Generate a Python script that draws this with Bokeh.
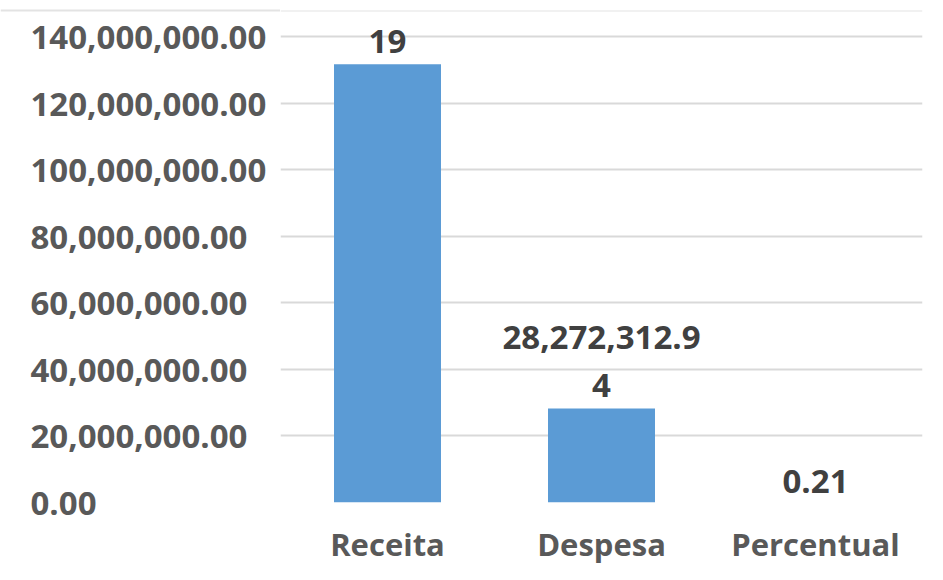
from bokeh.plotting import figure
from bokeh.layouts import row, column
from bokeh.models import ColumnDataSource, FixedTicker, Range1d, Span, CDSView, BooleanFilter
from bokeh.core.properties import value
from bokeh.embed import file_html
from bokeh.resources import INLINE

categories = ["Receita", "Despesa", "Percentual"]
values = [131650000.19, 28272312.94, 0.21]
y_ticks = [0, 20000000, 40000000, 60000000, 80000000, 100000000, 120000000, 140000000]

FONT = "Open Sans"
BAR = "#5B9BD5"
GRID = "#D9D9D9"
BORDER = "#E3E3E3"
AXIS_TXT = "#595959"
LBL_TXT = "#404040"

H = 572
TOP, BOTTOM = 10, 70
Y_END = 147810000
LEFT_W = 280
MAIN_W = 655


def wrap(s, n=12):
    return "\n".join(s[i:i + n] for i in range(0, len(s), n))


labels = [wrap(f"{v:,.2f}") for v in values]
multi = ["\n" in s for s in labels]
src = ColumnDataSource(dict(cat=categories, val=values, lbl=labels))

# ---- main plot ----
p = figure(width=MAIN_W, height=H, x_range=categories, y_range=Range1d(0, Y_END),
           output_backend="svg", toolbar_location=None,
           min_border_left=0, min_border_right=13,
           min_border_top=TOP, min_border_bottom=BOTTOM)
p.outline_line_color = None
p.background_fill_color = "white"
p.border_fill_color = "white"

p.vbar(x="cat", top="val", width=0.5, source=src, fill_color=BAR, line_color=None)

txt = dict(text_font=value(FONT), text_font_style="bold",
           text_font_size="33px", text_color=LBL_TXT,
           text_align="center", text_baseline="bottom",
           text_line_height=1.07)
p.text(x="cat", y="val", text="lbl", source=src,
       view=CDSView(filter=BooleanFilter(multi)), y_offset=-1, **txt)
p.text(x="cat", y="val", text="lbl", source=src,
       view=CDSView(filter=BooleanFilter([not m for m in multi])), y_offset=-10, **txt)

p.yaxis.visible = False
p.ygrid.ticker = FixedTicker(ticks=y_ticks)
p.ygrid.grid_line_color = GRID
p.ygrid.grid_line_width = 2
p.xgrid.grid_line_color = None
p.add_layout(Span(location=Y_END, dimension="width", line_color=BORDER, line_width=2))

p.xaxis.axis_line_color = None
p.xaxis.major_tick_line_color = None
p.xaxis.minor_tick_line_color = None
p.xaxis.major_label_standoff = 14
p.xaxis.major_label_text_font = FONT
p.xaxis.major_label_text_font_style = "bold"
p.xaxis.major_label_text_font_size = "31px"
p.xaxis.major_label_text_color = AXIS_TXT
p.x_range.range_padding = 0

# ---- left panel with value-axis labels (same scale, full-height frame) ----
k = Y_END / (H - TOP - BOTTOM)
lp = figure(width=LEFT_W, height=H, x_range=Range1d(0, LEFT_W),
            y_range=Range1d(-BOTTOM * k, Y_END + TOP * k),
            x_axis_type=None, y_axis_type=None,
            output_backend="svg", toolbar_location=None, min_border=0)
lp.outline_line_color = None
lp.background_fill_color = "white"
lp.border_fill_color = "white"
lp.grid.visible = False
tick_src = ColumnDataSource(dict(y=y_ticks, t=[f"{t:,.2f}" for t in y_ticks]))
lp.text(x=30, y="y", text="t", source=tick_src,
        text_font=value(FONT), text_font_style="bold",
        text_font_size="33px", text_color=AXIS_TXT,
        text_align="left", text_baseline="middle", y_offset=1)
lp.add_layout(Span(location=Y_END, dimension="width", line_color=BORDER, line_width=2))

layout = row(column(lp, spacing=0), column(p, spacing=0), spacing=0)
open("out.html", "w").write(file_html(layout, INLINE))
